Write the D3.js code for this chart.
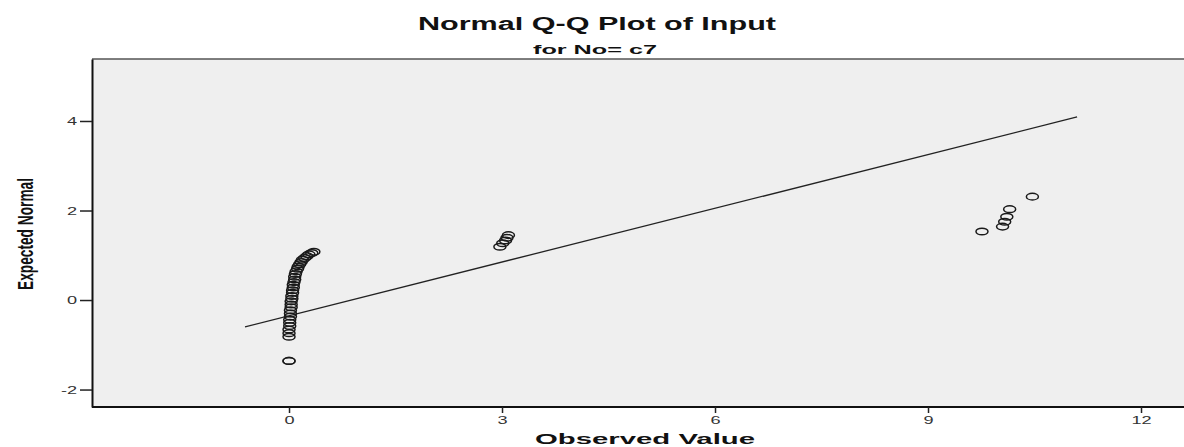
<!DOCTYPE html>
<html>
<head>
<meta charset="utf-8">
<script src="https://cdn.jsdelivr.net/npm/d3@7"></script>
<style>
  html, body { margin: 0; padding: 0; background: #fff; }
  svg { display: block; }
</style>
</head>
<body>
<svg id="chart" width="1184" height="447"></svg>
<script>
const observed = [
  0.0, 0.0,
  0.0, 0.0, 0.0, 0.01, 0.01, 0.01, 0.02, 0.02, 0.02, 0.03, 0.03, 0.03,
  0.04, 0.04, 0.05, 0.05, 0.06, 0.06, 0.07, 0.08, 0.08, 0.09, 0.10, 0.12,
  0.13, 0.15, 0.17, 0.19, 0.22, 0.25, 0.28, 0.32, 0.35,
  2.97, 3.01, 3.05, 3.07, 3.09,
  9.76, 10.05, 10.08, 10.11, 10.15, 10.47
]
const expected = [
  -1.36, -1.36,
  -0.82, -0.74, -0.66, -0.58, -0.51, -0.44, -0.37, -0.30, -0.23, -0.16,
  -0.10, -0.03, 0.03, 0.09, 0.16, 0.22, 0.28, 0.34, 0.40, 0.46, 0.52, 0.58,
  0.64, 0.70, 0.75, 0.80, 0.85, 0.90, 0.94, 0.98, 1.02, 1.05, 1.08,
  1.19, 1.27, 1.33, 1.39, 1.45,
  1.53, 1.64, 1.75, 1.86, 2.03, 2.31
]
// reference line endpoints
const lineX = [-0.62, 11.1]
const lineY = [-0.60, 4.09]

const xTicks = [0, 3, 6, 9, 12]
const yTicks = [-2, 0, 2, 4]

const title = 'Normal Q-Q Plot of Input'
const subtitle = 'for No= c7'
const xLabel = 'Observed Value'
const yLabel = 'Expected Normal'

const plot = {left: 92, right: 1190, top: 59, bottom: 407}

const x = d3.scaleLinear().domain([-2.775, 12.69]).range([plot.left, plot.right])
const y = d3.scaleLinear().domain([-2.39, 5.385]).range([plot.bottom, plot.top])

const svg = d3.select('#chart')

// plot background
svg.append('rect')
  .attr('x', plot.left)
  .attr('y', plot.top)
  .attr('width', plot.right - plot.left)
  .attr('height', plot.bottom - plot.top)
  .attr('fill', '#efefef')

// top border (gray)
svg.append('line')
  .attr('x1', plot.left).attr('x2', plot.right)
  .attr('y1', plot.top).attr('y2', plot.top)
  .attr('stroke', '#555').attr('stroke-width', 1.6)

// axes
const xAxis = svg.append('g')
  .attr('transform', `translate(0,${plot.bottom})`)
  .call(d3.axisBottom(x).tickValues(xTicks).tickFormat((d) => String(d)).tickSize(6).tickSizeOuter(0))
const yAxis = svg.append('g')
  .attr('transform', `translate(${plot.left},0)`)
  .call(d3.axisLeft(y).tickValues(yTicks).tickFormat((d) => String(d)).tickSize(12).tickSizeOuter(0))

for (const ax of [xAxis, yAxis]) {
  ax.select('.domain').attr('stroke', '#111').attr('stroke-width', 2)
  ax.selectAll('.tick line').attr('stroke', '#222').attr('stroke-width', 1.5)
  ax.selectAll('.tick text')
    .attr('fill', '#333')
    .attr('font-family', 'Liberation Sans, Arial, sans-serif')
    .attr('font-size', 11)
}
// stretch tick labels horizontally like the picture
xAxis.selectAll('.tick text')
  .attr('y', 9)
  .attr('transform', 'scale(1.65,1)')
yAxis.selectAll('.tick text')
  .attr('x', -15 / 1.65)
  .attr('transform', 'scale(1.65,1)')
// the domain path drawn from the plot's left edge
xAxis.select('.domain').attr('d', `M${plot.left},0H${plot.right}`)

// reference line
svg.append('line')
  .attr('x1', x(lineX[0])).attr('y1', y(lineY[0]))
  .attr('x2', x(lineX[1])).attr('y2', y(lineY[1]))
  .attr('stroke', '#222')
  .attr('stroke-width', 1.3)

// points
svg.append('g')
  .selectAll('ellipse')
  .data(d3.range(observed.length))
  .join('ellipse')
  .attr('cx', (i) => x(observed[i]))
  .attr('cy', (i) => y(expected[i]))
  .attr('rx', 6)
  .attr('ry', 3.3)
  .attr('fill', 'none')
  .attr('stroke', '#1a1a1a')
  .attr('stroke-width', 1.5)

// titles
svg.append('text')
  .attr('x', 597).attr('y', 30)
  .attr('text-anchor', 'middle')
  .attr('font-family', 'Liberation Sans, Arial, sans-serif')
  .attr('font-weight', 'bold')
  .attr('font-size', 18)
  .attr('textLength', 358)
  .attr('lengthAdjust', 'spacingAndGlyphs')
  .attr('fill', '#111')
  .text(title)

svg.append('text')
  .attr('x', 595).attr('y', 54)
  .attr('text-anchor', 'middle')
  .attr('font-family', 'Liberation Sans, Arial, sans-serif')
  .attr('font-weight', 'bold')
  .attr('font-size', 13)
  .attr('textLength', 124)
  .attr('lengthAdjust', 'spacingAndGlyphs')
  .attr('fill', '#111')
  .text(subtitle)

svg.append('text')
  .attr('x', 645).attr('y', 444)
  .attr('text-anchor', 'middle')
  .attr('font-family', 'Liberation Sans, Arial, sans-serif')
  .attr('font-weight', 'bold')
  .attr('font-size', 15)
  .attr('textLength', 220)
  .attr('lengthAdjust', 'spacingAndGlyphs')
  .attr('fill', '#111')
  .text(xLabel)

svg.append('text')
  .attr('transform', 'translate(33,234) rotate(-90)')
  .attr('text-anchor', 'middle')
  .attr('font-family', 'Liberation Sans Narrow, Liberation Sans, Arial, sans-serif')
  .attr('font-weight', 'bold')
  .attr('font-size', 22)
  .attr('textLength', 112)
  .attr('lengthAdjust', 'spacingAndGlyphs')
  .attr('fill', '#111')
  .text(yLabel)
</script>
</body>
</html>
